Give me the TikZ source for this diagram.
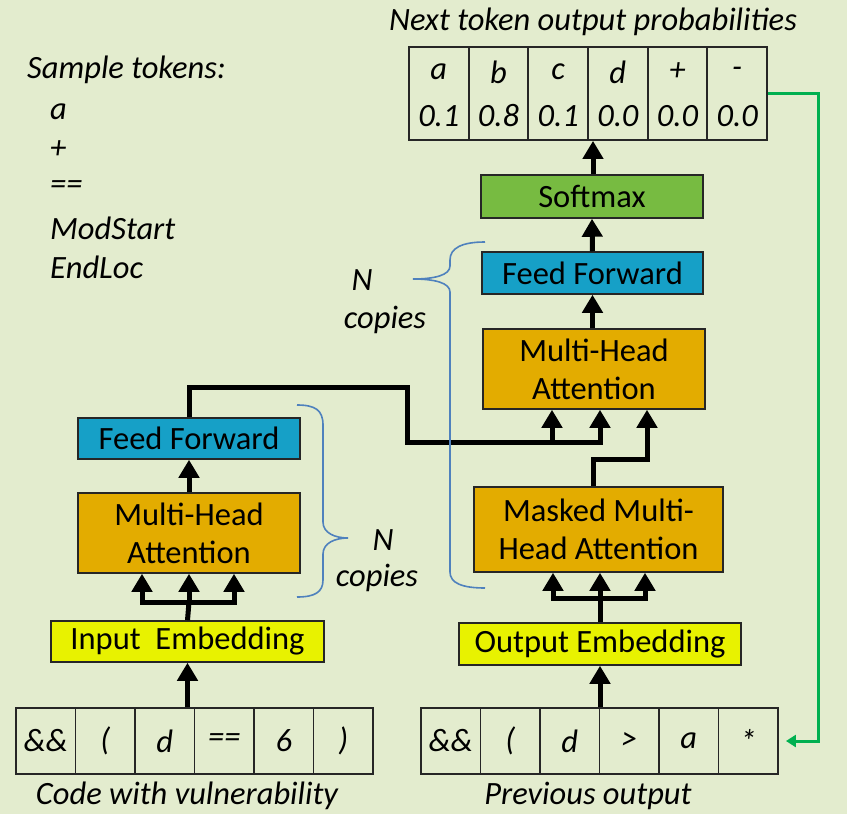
\documentclass[tikz,border=0pt]{standalone}
\usepackage{fontspec}
\setmainfont{Carlito}
\usetikzlibrary{arrows.meta}
\definecolor{bg}{RGB}{227,236,206}
\definecolor{ffblue}{RGB}{22,160,199}
\definecolor{attn}{RGB}{227,172,0}
\definecolor{emb}{RGB}{232,242,0}
\definecolor{smax}{RGB}{119,187,65}
\definecolor{brc}{RGB}{79,129,189}
\definecolor{grn}{RGB}{0,176,80}
\begin{document}
\begin{tikzpicture}[x=1pt,y=-1pt,
  box/.style={draw=black!85, line width=1.5pt, inner sep=0pt, align=center, font=\fontsize{32.5}{38}\selectfont},
  cell/.style={draw=black!85, line width=1.8pt, minimum width=59.6pt, inner sep=0pt},
  lbl/.style={font=\fontsize{32.5}{38}\selectfont\itshape, inner sep=0pt},
  wire/.style={line width=5pt},
  arr/.style={line width=5pt, -{Triangle[width=20pt,length=18pt]}},
  brace/.style={draw=brc, line width=1.6pt}
]
\fill[bg] (0,0) rectangle (847,814);
\useasboundingbox (0,0) rectangle (847,814);

% ---------- texts ----------
\node[lbl] (title) at (593,22) {Next token output probabilities};
\node[lbl, anchor=west] (st) at (27,70) {Sample tokens:};
\node[lbl, anchor=west] (s1) at (50,112) {a};
\node[lbl, anchor=west] (s2) at (50,150) {+};
\node[lbl, anchor=west] (s3) at (50,188) {==};
\node[lbl, anchor=west] (s4) at (50,228) {ModStart};
\node[lbl, anchor=west] (s5) at (50,267) {EndLoc};
\node[lbl] (capl) at (187,796) {Code with vulnerability};
\node[lbl] (capr) at (588,796) {Previous output};

% ---------- top table ----------
\foreach \t/\p [count=\i] in {a/0.1, b/0.8, c/0.1, d/0.0, +/0.0, -/0.0}{
  \node[cell, minimum height=93pt] (t\i) at ({409+59.67*(\i-0.5)},93.5) {};
  \node[lbl] (tt\i) at ({409+59.67*(\i-0.5)},72) {\t};
  \node[lbl] (tp\i) at ({409+59.67*(\i-0.5)},116) {\p};
}

% ---------- bottom tables ----------
\foreach \t [count=\i] in {{\&\&}, {(}, {d}, {==}, {6}, {)}}{
  \node[cell, minimum height=66pt] (lt\i) at ({16+59.5*(\i-0.5)},741) {};
  \node[lbl] (ltx\i) at ({16+59.5*(\i-0.5)},741) {\t};
}
\foreach \t [count=\i] in {{\&\&}, {(}, {d}, {>}, {a}, {*}}{
  \node[cell, minimum height=66pt] (rt\i) at ({421+59.5*(\i-0.5)},741) {};
  \node[lbl] (rtx\i) at ({421+59.5*(\i-0.5)},741) {\t};
}

% ---------- left column ----------
\node[box, fill=ffblue, minimum width=222pt, minimum height=41pt] (lff) at (189,438.5) {Feed Forward};
\node[box, fill=attn, minimum width=222pt, minimum height=80pt] (lmha) at (189,533) {Multi-Head\\Attention};
\node[box, fill=emb, minimum width=273pt, minimum height=41pt] (iemb) at (187.5,641.5) {Input~~Embedding};

% ---------- right column ----------
\node[box, fill=smax, minimum width=222pt, minimum height=43pt] (smx) at (592,196.5) {Softmax};
\node[box, fill=ffblue, minimum width=221pt, minimum height=42pt] (rff) at (592.5,273) {Feed Forward};
\node[box, fill=attn, minimum width=222pt, minimum height=80pt] (rmha) at (594,369) {Multi-Head\\Attention};
\node[box, fill=attn, minimum width=249pt, minimum height=85pt] (mmha) at (598.5,529.5) {Masked Multi-\\Head Attention};
\node[box, fill=emb, minimum width=282pt, minimum height=42pt] (oemb) at (600,644) {Output Embedding};

% ---------- left connectors ----------
\draw[arr] (iemb.south |- lt3.north) -- (iemb.south);
\coordinate (lj) at (189,602);
\draw[wire] (iemb.north) -- (lj);
\draw[arr] (lj) -| (lmha.south -| 142,0);
\draw[arr] (lj) -| (lmha.south -| 234,0);
\draw[arr] (lj) -- (lmha.south);
\draw[arr] (lmha.north) -- (lff.south);

% ---------- encoder to decoder ----------
\coordinate (c1) at (407,387);
\coordinate (c2) at (407,442);
\draw[arr] (lff.north) |- (c1) -- (c2) -| (rmha.south -| 600,0);
\draw[arr] (c2 -| 552,0) -- (rmha.south -| 552,0);

% ---------- right connectors ----------
\draw[arr] (oemb.south |- rt4.north) -- (oemb.south);
\coordinate (rj) at (600,598);
\draw[wire] (oemb.north) -- (rj);
\draw[arr] (rj) -| (mmha.south -| 553,0);
\draw[arr] (rj) -| (mmha.south -| 645,0);
\draw[arr] (rj) -- (mmha.south -| 600,0);
\coordinate (c3) at (593,459);
\draw[arr] (mmha.north -| c3) -- (c3) -| (rmha.south -| 647,0);
\draw[arr] (rmha.north -| rff.south) -- (rff.south);
\draw[arr] (rff.north) -- (smx.south);
\draw[arr] (smx.north -| 593,0) -- (t4.south -| 593,0);

% ---------- feedback ----------
\draw[draw=grn, line width=3pt, -{Triangle[width=12pt,length=10pt]}, shorten >=7pt] (t6.east) -- ++(51,0) |- (rt6.east);

% ---------- braces ----------
\draw[brace] (297,405) .. controls (315,405) and (323,410) .. (323,425) -- (323,522) .. controls (323,533) and (335,538) .. (348,538) .. controls (335,538) and (323,543) .. (323,554) -- (323,580) .. controls (323,592) and (315,597) .. (297,597);
\node[lbl] (ln) at (383,540) {N};
\node[lbl] (lc) at (377,578) {copies};

\draw[brace] (485,242) .. controls (462,242) and (450,248) .. (450,260) -- (450,266) .. controls (450,275) and (435,279) .. (413,279) .. controls (435,279) and (450,283) .. (450,292) -- (450,572) .. controls (450,583) and (462,588) .. (485,588);
\node[lbl] (rn) at (362,280) {N};
\node[lbl] (rc) at (385,320) {copies};
\end{tikzpicture}
\end{document}
